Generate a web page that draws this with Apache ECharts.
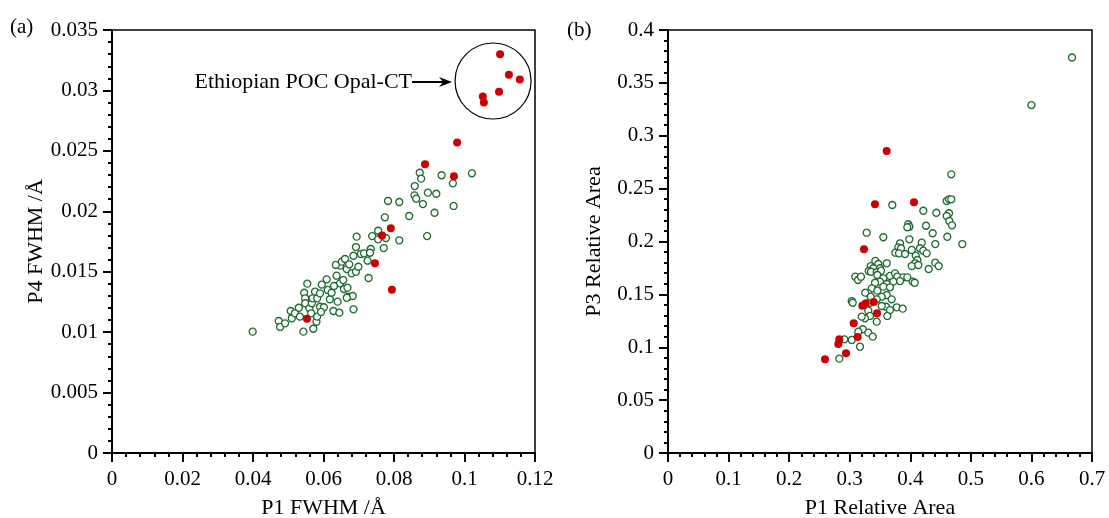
<!DOCTYPE html>
<html>
<head>
<meta charset="utf-8">
<script src="https://cdn.jsdelivr.net/npm/echarts@6/dist/echarts.min.js"></script>
<style>
html,body{margin:0;padding:0;background:#fff;}
#chart{width:1109px;height:518px;}
</style>
</head>
<body>
<div id="chart"></div>
<script>
// ---- Data ----
var leftXTicks = [0, 0.02, 0.04, 0.06, 0.08, 0.1, 0.12];
var leftYTicks = [0, 0.005, 0.01, 0.015, 0.02, 0.025, 0.03, 0.035];
var rightXTicks = [0, 0.1, 0.2, 0.3, 0.4, 0.5, 0.6, 0.7];
var rightYTicks = [0, 0.05, 0.1, 0.15, 0.2, 0.25, 0.3, 0.35, 0.4];

// (a) P1 FWHM vs P4 FWHM — other samples (open green)
var leftGreen = [
[0.0873,0.02319],[0.0877,0.02270],[0.0935,0.02298],[0.1021,0.02314],[0.0967,0.02231],
[0.0859,0.02209],[0.0858,0.02132],[0.0863,0.02104],[0.0896,0.02154],[0.0920,0.02145],
[0.0882,0.02060],[0.0783,0.02085],[0.0815,0.02077],[0.0969,0.02044],[0.0915,0.01988],
[0.0774,0.01950],[0.0843,0.01961],[0.0755,0.01839],[0.0738,0.01795],[0.0755,0.01768],
[0.0777,0.01779],[0.0815,0.01760],[0.0771,0.01696],[0.0894,0.01795],[0.0694,0.01790],
[0.0692,0.01704],[0.0734,0.01688],
[0.0399,0.01004],[0.0473,0.01092],[0.0477,0.01043],[0.0491,0.01073],[0.0507,0.01175],
[0.0510,0.01115],[0.0519,0.01156],[0.0530,0.01202],[0.0533,0.01128],[0.0543,0.01004],
[0.0545,0.01326],[0.0548,0.01280],[0.0548,0.01239],[0.0554,0.01401],[0.0560,0.01197],
[0.0565,0.01156],[0.0571,0.01028],[0.0580,0.01086],[0.0582,0.01128],[0.0567,0.01239],
[0.0576,0.01335],[0.0569,0.01280],[0.0582,0.01280],[0.0590,0.01321],[0.0590,0.01210],
[0.0595,0.01393],[0.0601,0.01206],[0.0593,0.01167],[0.0609,0.01437],[0.0612,0.01349],
[0.0618,0.01272],[0.0623,0.01326],[0.0630,0.01382],[0.0637,0.01467],[0.0640,0.01252],
[0.0628,0.01175],[0.0645,0.01161],[0.0647,0.01404],[0.0656,0.01431],[0.0658,0.01357],
[0.0647,0.01550],[0.0635,0.01556],[0.0652,0.01583],[0.0661,0.01605],[0.0666,0.01522],
[0.0673,0.01561],[0.0680,0.01487],[0.0685,0.01632],[0.0668,0.01368],[0.0670,0.01293],
[0.0683,0.01299],[0.0666,0.01285],[0.0685,0.01189],[0.0692,0.01500],[0.0699,0.01541],
[0.0706,0.01647],[0.0715,0.01652],[0.0728,0.01448],[0.0725,0.01591],[0.0732,0.01657]
];
// (a) Ethiopian POC Opal-CT and other filled samples (red)
var leftRed = [
[0.1101,0.0330],[0.1126,0.0313],[0.1157,0.0309],[0.1098,0.0299],[0.1052,0.0295],[0.1055,0.0290],
[0.0979,0.0257],[0.0888,0.0239],[0.0970,0.0229],[0.0791,0.0186],[0.0766,0.0180],
[0.0746,0.0157],[0.0794,0.0135],[0.0553,0.0111]
];

// (b) P1 Relative Area vs P3 Relative Area — open green
var rightGreen = [
[0.4677,0.2635],[0.4601,0.2383],[0.4639,0.2399],[0.4677,0.2399],[0.3703,0.2345],
[0.4215,0.2291],[0.4430,0.2272],[0.4639,0.2267],[0.4601,0.2241],[0.4644,0.2194],
[0.4689,0.2153],[0.3967,0.2163],[0.3984,0.2140],[0.3951,0.2134],[0.4260,0.2149],
[0.4370,0.2078],[0.4611,0.2045],[0.4859,0.1976],[0.3280,0.2083],[0.3555,0.2040],
[0.3984,0.2021],[0.4189,0.1989],[0.4413,0.1976],[0.3830,0.1983],[0.3802,0.1945],
[0.3847,0.1936],[0.3753,0.1894],[0.3814,0.1888],[0.3913,0.1882],[0.4024,0.1920],
[0.4160,0.1936],[0.4215,0.1913],[0.4271,0.1888],[0.4090,0.1866],[0.4116,0.1825],
[0.4078,0.1794],[0.4024,0.1768],[0.4133,0.1778],[0.3423,0.1816],[0.3472,0.1787],
[0.3611,0.1794],[0.3347,0.1768],[0.3390,0.1747],[0.3500,0.1747],[0.3314,0.1721],
[0.3351,0.1714],[0.3446,0.1709],[0.3517,0.1724],[0.4304,0.1740],[0.4413,0.1800],
[0.4469,0.1768],[0.3092,0.1667],[0.3137,0.1636],[0.3186,0.1667],[0.3456,0.1683],
[0.3555,0.1652],[0.3665,0.1674],[0.3748,0.1699],[0.3786,0.1667],[0.3885,0.1661],
[0.4040,0.1620],[0.4073,0.1610],[0.3951,0.1661],[0.3830,0.1626],[0.3720,0.1620],
[0.3611,0.1598],[0.3500,0.1620],[0.3418,0.1610],[0.3363,0.1557],[0.3456,0.1535],
[0.3555,0.1573],[0.3665,0.1567],[0.3611,0.1494],[0.3693,0.1453],[0.3528,0.1478],
[0.3446,0.1453],[0.3335,0.1421],[0.3307,0.1510],[0.3257,0.1516],[0.3347,0.1478],
[0.3776,0.1378],[0.3875,0.1365],[0.3599,0.1383],[0.3665,0.1352],[0.3621,0.1296],
[0.3528,0.1390],[0.3307,0.1346],[0.3335,0.1296],[0.3252,0.1274],[0.3198,0.1289],
[0.3033,0.1437],[0.3049,0.1421],[0.3215,0.1170],[0.3307,0.1138],[0.3380,0.1100],
[0.3170,0.1005],[0.2911,0.1075],[0.2828,0.0892],[0.3446,0.1242],[0.3033,0.1069],
[0.3142,0.1147],[0.600,0.329],[0.667,0.374]
];
var rightRed = [
[0.3610,0.2856],[0.3417,0.2352],[0.4061,0.2371],[0.3236,0.1926],[0.3264,0.1415],
[0.3208,0.1393],[0.3396,0.1428],[0.3451,0.1321],[0.3066,0.1226],[0.3132,0.1097],
[0.2828,0.1075],[0.2812,0.1031],[0.2939,0.0943],[0.2592,0.0886]
];

var annotationText = 'Ethiopian POC Opal-CT';
var annotationCenter = [0.1081, 0.03078];

// ---- Styling ----
var FONT = '"Liberation Serif", "Times New Roman", serif';
var GREEN = '#1e6b30';
var RED = '#cc0000';
function fmt(v){ return String(parseFloat(v.toFixed(4))); }

function xAxis(idx, min, max, interval, name){
  return {
    type:'value', gridIndex: idx, min:min, max:max, interval:interval,
    name:name, nameLocation:'middle', nameGap:44,
    nameTextStyle:{fontFamily:FONT, fontSize:22, color:'#000'},
    axisLine:{show:true, onZero:false, lineStyle:{color:'#000', width:2}},
    axisTick:{show:true, inside:false, length:9, lineStyle:{color:'#000', width:2}},
    minorTick:{show:true, splitNumber:5, length:4, lineStyle:{color:'#000', width:2}},
    axisLabel:{fontFamily:FONT, fontSize:21, color:'#000', margin:16, formatter:fmt},
    splitLine:{show:false}
  };
}
function yAxis(idx, min, max, interval, name){
  return {
    type:'value', gridIndex: idx, min:min, max:max, interval:interval,
    name:name, nameLocation:'middle', nameGap:63, nameRotate:90,
    nameTextStyle:{fontFamily:FONT, fontSize:22, color:'#000'},
    axisLine:{show:true, onZero:false, lineStyle:{color:'#000', width:2}},
    axisTick:{show:true, inside:false, length:9, lineStyle:{color:'#000', width:2}},
    minorTick:{show:true, splitNumber:5, length:4, lineStyle:{color:'#000', width:2}},
    axisLabel:{fontFamily:FONT, fontSize:21, color:'#000', margin:14, formatter:fmt},
    splitLine:{show:false}
  };
}
function openSeries(idx, data){
  return {type:'scatter', xAxisIndex:idx, yAxisIndex:idx, data:data, symbol:'circle', symbolSize:7,
    itemStyle:{color:'#fff', borderColor:GREEN, borderWidth:1.3, opacity:1}, z:2, silent:true};
}
function redSeries(idx, data){
  return {type:'scatter', xAxisIndex:idx, yAxisIndex:idx, data:data, symbol:'circle', symbolSize:8,
    itemStyle:{color:RED, opacity:1}, z:3, silent:true};
}

var chart = echarts.init(document.getElementById('chart'), null, {renderer:'canvas'});
var option = {
  animation:false,
  backgroundColor:'#fff',
  grid:[
    {left:112, top:30, width:423, height:423, containLabel:false, outerBoundsMode:'none', show:true, borderColor:'#000', borderWidth:1.5, backgroundColor:'transparent'},
    {left:668, top:30, width:424, height:423, containLabel:false, outerBoundsMode:'none', show:true, borderColor:'#000', borderWidth:1.5, backgroundColor:'transparent'}
  ],
  xAxis:[
    xAxis(0, leftXTicks[0], leftXTicks[leftXTicks.length-1], leftXTicks[1]-leftXTicks[0], 'P1 FWHM /Å'),
    xAxis(1, rightXTicks[0], rightXTicks[rightXTicks.length-1], rightXTicks[1]-rightXTicks[0], 'P1 Relative Area')
  ],
  yAxis:[
    yAxis(0, leftYTicks[0], leftYTicks[leftYTicks.length-1], leftYTicks[1]-leftYTicks[0], 'P4 FWHM /Å'),
    yAxis(1, rightYTicks[0], rightYTicks[rightYTicks.length-1], rightYTicks[1]-rightYTicks[0], 'P3 Relative Area')
  ],
  series:[
    openSeries(0, leftGreen), redSeries(0, leftRed),
    openSeries(1, rightGreen), redSeries(1, rightRed)
  ]
};
chart.setOption(option);

// Annotation: circle around the Ethiopian POC Opal-CT points + labelled arrow; panel letters
var c = chart.convertToPixel({xAxisIndex:0, yAxisIndex:0}, annotationCenter);
var r = 38;
var tipX = c[0] - r - 3;
var tailX = tipX - 40;
chart.setOption({
  graphic:[
    {type:'circle', shape:{cx:c[0], cy:c[1], r:r}, style:{fill:'none', stroke:'#000', lineWidth:1.2}, z:10},
    {type:'line', shape:{x1:tailX, y1:c[1]+1, x2:tipX-6, y2:c[1]+1}, style:{stroke:'#000', lineWidth:2}, z:10},
    {type:'polygon', shape:{points:[[tipX, c[1]+1],[tipX-13, c[1]-4],[tipX-9, c[1]+1],[tipX-13, c[1]+6]]}, style:{fill:'#000'}, z:10},
    {type:'text', x:tailX, y:c[1]+1, style:{text:annotationText, font:'22px '+FONT, fill:'#000', textAlign:'right', textVerticalAlign:'middle'}, z:10},
    {type:'text', x:10, y:27, style:{text:'(a)', font:'21px '+FONT, fill:'#000', textAlign:'left', textVerticalAlign:'middle'}, z:10},
    {type:'text', x:567, y:30, style:{text:'(b)', font:'21px '+FONT, fill:'#000', textAlign:'left', textVerticalAlign:'middle'}, z:10}
  ]
});
</script>
</body>
</html>
